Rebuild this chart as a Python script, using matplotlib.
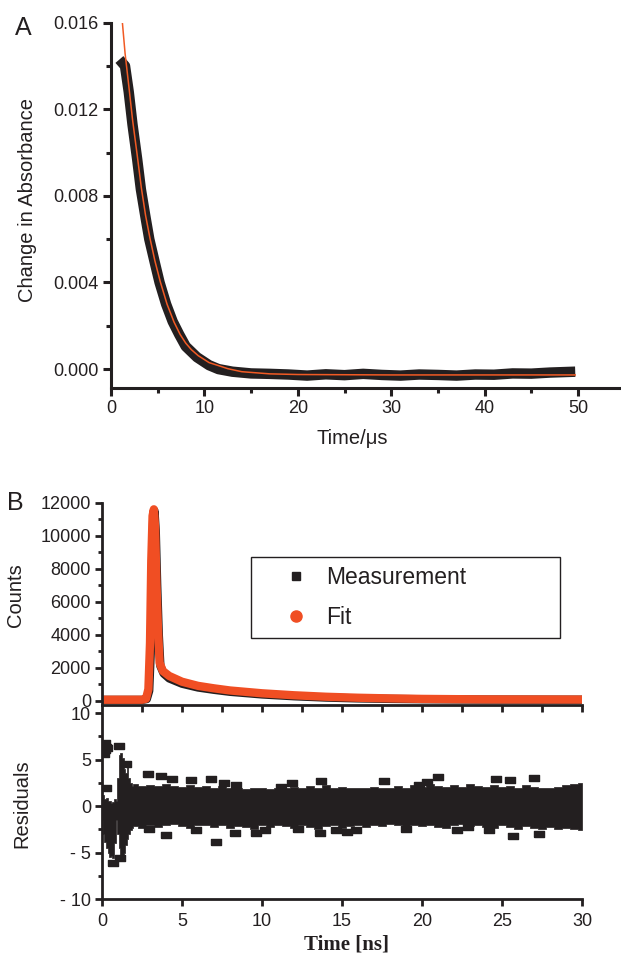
import matplotlib
matplotlib.use('Agg')
import matplotlib.pyplot as plt
from matplotlib.lines import Line2D
from matplotlib.legend_handler import HandlerLine2D
from matplotlib.ticker import MultipleLocator, FixedLocator, FixedFormatter, NullFormatter

plt.rcParams['font.family'] = ['Liberation Sans', 'DejaVu Sans']
plt.rcParams['text.color'] = '#231f20'
plt.rcParams['xtick.color'] = '#231f20'
plt.rcParams['ytick.color'] = '#231f20'

INK = '#231f20'
RED = '#f15a24'
ORANGE = '#f04e23'

# ---- panel A: transient absorption decay ----
a_fit_t = [1.22, 1.51, 1.9, 2.32, 2.8, 3.25, 3.7, 4.17, 4.7, 5.28, 6.0, 6.75, 7.4, 8.0, 8.6, 9.34,
           10.5, 11.55, 12.5, 14.0, 17.0, 20.0, 30.0, 40.0, 49.7]
a_fit_v = [0.0160, 0.01457, 0.0131, 0.01147, 0.0099, 0.00837, 0.0071, 0.00605, 0.0050, 0.00403,
           0.0030, 0.00217, 0.0016, 0.0012, 0.0009, 0.00062, 0.00030, 0.000155, 0.00002, -0.00012,
           -0.00022, -0.00025, -0.00027, -0.00027, -0.00027]

a_dat_t = [0.9, 1.5, 1.9, 2.3, 2.8, 3.2, 3.7, 4.1, 4.7, 5.2, 5.9, 6.6, 7.3, 8.0, 8.6, 9.2, 10.5, 11.5,
           13.0, 15.0, 17.0, 19.0, 21.0, 23.0, 25.0, 27.0, 29.0, 31.0, 33.0, 35.0, 37.0, 39.0, 41.0,
           43.0, 45.0, 47.0, 49.7]
a_dat_v = [0.0143, 0.0140, 0.0128, 0.0113, 0.0097, 0.0083, 0.0070, 0.0060, 0.0049, 0.0040, 0.0030,
           0.0022, 0.0016, 0.00105, 0.0008, 0.00055, 0.00018, 0.0, -0.00012, -0.0002, -0.00022,
           -0.00025, -0.0003, -0.00024, -0.00028, -0.00022, -0.00027, -0.0003, -0.00025, -0.00027,
           -0.0003, -0.00025, -0.00026, -0.0002, -0.00021, -0.00016, -0.00012]

# ---- panel B: fluorescence decay (counts) ----
b_fit_t = [0.0, 2.5, 2.75, 2.9, 3.0, 3.08, 3.16, 3.24, 3.32, 3.4, 3.5, 3.6, 3.8, 4.2, 5.0, 6.0, 7.0,
           8.0, 10.0, 12.0, 14.0, 16.0, 18.0, 20.0, 24.0, 30.0]
b_fit_v = [60, 60, 120, 700, 3500, 8500, 11200, 11600, 10500, 7200, 4300, 2300, 1800, 1500, 1150,
           900, 750, 620, 450, 330, 240, 180, 140, 110, 80, 70]

b_meas_t = [0.0, 2.5, 2.8, 2.95, 3.05, 3.12, 3.2, 3.28, 3.36, 3.45, 3.55, 3.65, 3.85, 4.2, 5.0, 6.0,
            7.0, 8.0, 10.0, 12.0, 14.0, 16.0, 18.0, 20.0, 24.0, 30.0]
b_meas_v = [50, 50, 100, 600, 3000, 8000, 11000, 11500, 10300, 7000, 4000, 2100, 1650, 1350, 1030,
            800, 660, 540, 380, 270, 190, 140, 110, 90, 70, 60]

# ---- residuals: envelope of the dense band plus stray points ----
res_t = [0.0, 0.1, 0.2, 0.3, 0.4, 0.5, 0.6, 0.7, 0.8, 0.9, 1.0, 1.1, 1.2, 1.3, 1.4, 1.5, 1.6, 1.7,
         1.8, 1.9, 2.0, 2.5, 3.0, 3.5, 4.0, 4.5, 5.0, 5.5, 6.0, 6.5, 7.0, 7.5, 8.0, 8.5, 9.0, 9.5,
         10.0, 10.5, 11.0, 11.5, 12.0, 12.5, 13.0, 13.5, 14.0, 14.5, 15.0, 15.5, 16.0, 16.5, 17.0,
         17.5, 18.0, 18.5, 19.0, 19.5, 20.0, 20.5, 21.0, 21.5, 22.0, 22.5, 23.0, 23.5, 24.0, 24.5,
         25.0, 25.5, 26.0, 26.5, 27.0, 27.5, 28.0, 28.5, 29.0, 29.5, 30.0]
res_hi = [1.0, 1.2, 0.8, 0.9, 0.6, 0.5, 0.3, 0.4, 0.8, 0.5, 3.0, 5.5, 5.7, 5.2, 4.0, 3.6, 4.4, 3.0,
          2.5, 2.2, 2.4, 2.2, 2.3, 2.2, 2.4, 2.2, 2.1, 2.3, 2.1, 2.2, 2.0, 2.2, 1.9, 2.0, 1.8, 2.0,
          1.9, 1.8, 2.0, 1.9, 2.1, 1.9, 2.2, 2.0, 2.3, 2.0, 2.1, 1.9, 2.0, 1.9, 2.1, 1.9, 2.0, 2.2,
          2.0, 2.3, 2.1, 2.4, 2.2, 2.1, 2.3, 2.1, 2.4, 2.2, 2.1, 2.3, 2.1, 2.2, 2.0, 2.3, 2.1, 2.0,
          2.0, 2.1, 2.3, 2.4, 2.5]
res_lo = [-1.5, -3.0, -3.8, -4.5, -5.0, -5.5, -5.3, -5.6, -4.0, -1.5, -3.0, -4.5, -5.3, -5.4, -5.0,
          -4.2, -3.5, -3.0, -2.6, -2.3, -2.1, -2.3, -2.0, -2.2, -2.0, -1.9, -2.1, -2.3, -2.0, -2.0,
          -2.2, -2.0, -2.3, -2.1, -2.2, -2.4, -2.0, -2.2, -2.0, -2.1, -2.3, -2.0, -2.2, -2.4, -2.1,
          -2.0, -2.3, -2.1, -2.0, -2.2, -2.0, -2.1, -1.9, -2.0, -2.2, -2.0, -2.1, -2.0, -2.2, -2.3,
          -2.0, -1.9, -2.1, -2.0, -2.2, -2.3, -2.0, -2.2, -2.4, -2.1, -2.3, -2.5, -2.2, -2.4, -2.3,
          -2.5, -2.6]

stray_t = [0.15, 0.2, 0.25, 0.2, 0.3, 0.25, 1.05, 1.5, 0.7, 1.15, 2.9, 3.67, 4.4, 5.56, 6.8, 7.6,
           8.4, 11.2, 11.9, 13.7, 17.6, 19.8, 20.3, 21.0, 24.6, 25.5, 27.0, 2.95, 4.0, 5.9, 7.1, 8.3,
           9.6, 10.2, 12.25, 13.6, 14.6, 15.3, 15.9, 19.0, 22.2, 22.9, 24.2, 25.7, 27.3]
stray_v = [5.6, 6.0, 6.4, 6.8, 6.2, 1.9, 6.5, 4.5, -6.1, -5.6, 3.5, 3.2, 2.9, 2.8, 2.9, 2.5, 2.25,
           2.1, 2.5, 2.7, 2.7, 2.3, 2.6, 3.1, 2.9, 2.8, 3.0, -2.4, -3.1, -2.6, -3.8, -2.9, -2.9, -2.6,
           -2.5, -2.9, -2.6, -2.75, -2.6, -2.4, -2.6, -2.2, -2.6, -3.2, -3.0]

W, H = 621, 958
fig = plt.figure(figsize=(W / 100, H / 100), dpi=100)


def box(l, t, r, b):
    return [l / W, 1 - b / H, (r - l) / W, (b - t) / H]


def style(ax, lw):
    ax.spines['top'].set_visible(False)
    ax.spines['right'].set_visible(False)
    for s in ('left', 'bottom'):
        ax.spines[s].set_linewidth(lw)
        ax.spines[s].set_color(INK)
    ax.patch.set_alpha(0)


# panel A
axA = fig.add_axes(box(111, 22.7, 621, 387.5))
style(axA, 2.2)
axA.plot(a_dat_t, a_dat_v, color=INK, lw=7.5, solid_capstyle='butt', solid_joinstyle='round')
axA.plot(a_fit_t, a_fit_v, color=RED, lw=1.1)
axA.set_xlim(0, 54.6)
axA.set_ylim(-0.00085, 0.016)
axA.xaxis.set_major_locator(MultipleLocator(10))
axA.xaxis.set_minor_locator(MultipleLocator(5))
axA.yaxis.set_major_locator(FixedLocator([0, 0.004, 0.008, 0.012, 0.016]))
axA.yaxis.set_major_formatter(FixedFormatter(['0.000', '0.004', '0.008', '0.012', '0.016']))
axA.yaxis.set_minor_locator(MultipleLocator(0.002))
axA.tick_params(which='major', length=6, width=2.2, labelsize=13, pad=3)
axA.tick_params(which='minor', length=3.5, width=2.2)
fig.text(28 / W, 1 - 200 / H, 'Change in Absorbance', rotation=90, fontsize=14.5,
         ha='center', va='center')
fig.text(352 / W, 1 - 438 / H, 'Time/\u03bcs', fontsize=14.5, ha='center', va='center')
fig.text(23 / W, 1 - 28 / H, 'A', fontsize=18, ha='center', va='center')

# panel B, counts
axB = fig.add_axes(box(102, 502.7, 582, 705))
style(axB, 2.0)
axB.plot(b_meas_t, b_meas_v, color=INK, lw=6, solid_capstyle='round')
axB.plot(b_fit_t, b_fit_v, color=ORANGE, lw=6, solid_capstyle='round')
axB.set_xlim(0, 30)
axB.set_ylim(-260, 12000)
axB.xaxis.set_major_locator(MultipleLocator(2.5))
axB.xaxis.set_major_formatter(NullFormatter())
axB.yaxis.set_major_locator(MultipleLocator(2000))
axB.yaxis.set_minor_locator(MultipleLocator(1000))
axB.tick_params(which='major', length=5, width=2.0, labelsize=13, pad=3)
axB.tick_params(which='minor', length=3, width=2.0)
fig.text(16 / W, 1 - 595 / H, 'Counts', rotation=90, fontsize=14.5, ha='center', va='center')
fig.text(15 / W, 1 - 503 / H, 'B', fontsize=18, ha='center', va='center')

handles = [Line2D([], [], ls='none', marker='s', color=INK, markersize=6),
           Line2D([], [], ls='none', marker='o', color=ORANGE, markersize=8)]
leg = axB.legend(handles, ['Measurement', 'Fit'], loc='upper left', mode='expand',
                 bbox_to_anchor=box(251, 556.7, 560, 644), bbox_transform=fig.transFigure,
                 borderaxespad=0, fontsize=16.5, borderpad=0.4, labelspacing=0.75,
                 handlelength=2.6, handletextpad=0.3, fancybox=False, framealpha=1,
                 handler_map={Line2D: HandlerLine2D(xpad=0.52)})
leg.get_frame().set_edgecolor(INK)
leg.get_frame().set_linewidth(1.0)

# panel B, residuals
axR = fig.add_axes(box(102, 713, 582, 899.3))
style(axR, 2.0)
axR.fill_between(res_t, res_lo, res_hi, color=INK, lw=0.5, step='mid')
rect = [(-1, -0.6), (1, -0.6), (1, 0.6), (-1, 0.6), (-1, -0.6)]
axR.plot(stray_t, stray_v, ls='none', marker=rect, markersize=7, color=INK)
axR.set_xlim(0, 30)
axR.set_ylim(-10, 10)
axR.xaxis.set_major_locator(MultipleLocator(5))
axR.yaxis.set_major_locator(FixedLocator([-10, -5, 0, 5, 10]))
axR.yaxis.set_major_formatter(FixedFormatter(['- 10', '- 5', '0', '5', '10']))
axR.yaxis.set_minor_locator(MultipleLocator(2.5))
axR.tick_params(which='major', length=5, width=2.0, labelsize=13, pad=3)
axR.tick_params(which='minor', length=3, width=2.0)
axR.tick_params(axis='x', pad=5)
fig.text(22 / W, 1 - 804 / H, 'Residuals', rotation=90, fontsize=14.5, ha='center', va='center')
fig.text(346 / W, 1 - 945 / H, 'Time [ns]', fontsize=15, fontweight='bold',
         family=['Liberation Serif', 'DejaVu Serif'], ha='center', va='center')

fig.savefig('out.png', dpi=100)
